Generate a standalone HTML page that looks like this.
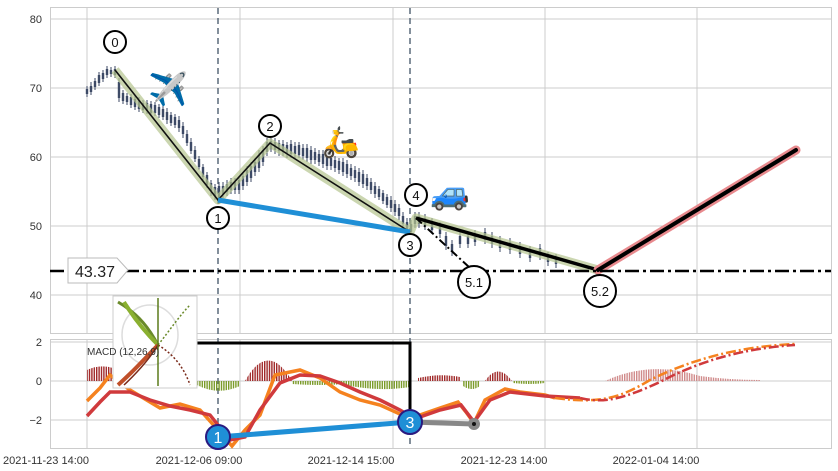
<!DOCTYPE html>
<html><head><meta charset="utf-8"><style>
body{margin:0;background:#fff;width:838px;height:471px;overflow:hidden}
svg{display:block;font-family:"Liberation Sans",sans-serif}
</style></head><body>
<svg width="838" height="471" viewBox="0 0 838 471">
<defs>
<pattern id="pr" width="2.4" height="10" patternUnits="userSpaceOnUse"><rect width="1.4" height="10" fill="#a02828"/></pattern>
<pattern id="pg" width="2.4" height="10" patternUnits="userSpaceOnUse"><rect width="1.4" height="10" fill="#7a9a28"/></pattern>
<pattern id="pp" width="2.4" height="10" patternUnits="userSpaceOnUse"><rect width="1.4" height="10" fill="#d08a8a"/></pattern>
</defs>
<rect x="0" y="0" width="838" height="471" fill="#fff"/>
<g stroke="#ccc" stroke-width="1" fill="none">
<rect x="50.5" y="7.5" width="781" height="326"/>
<rect x="50.5" y="339.5" width="781" height="109"/>
<line x1="51" x2="831" y1="19" y2="19"/><line x1="51" x2="831" y1="88" y2="88"/>
<line x1="51" x2="831" y1="157" y2="157"/><line x1="51" x2="831" y1="226" y2="226"/>
<line x1="51" x2="831" y1="295" y2="295"/>
<line x1="51" x2="831" y1="342" y2="342"/><line x1="51" x2="831" y1="381" y2="381"/><line x1="51" x2="831" y1="420" y2="420"/>
<path d="M87 8V333M240 8V333M393 8V333M545 8V333M697 8V333M87 340V448M240 340V448M393 340V448M545 340V448M697 340V448"/>
</g>
<g font-size="11" fill="#333" text-anchor="end">
<text x="42" y="23">80</text><text x="42" y="92">70</text><text x="42" y="161">60</text><text x="42" y="230">50</text><text x="42" y="299">40</text>
<text x="42" y="346">2</text><text x="42" y="385">0</text><text x="42" y="424">−2</text>
</g>
<g font-size="11" fill="#333" text-anchor="middle">
<text x="46" y="464">2021-11-23 14:00</text><text x="199" y="464">2021-12-06 09:00</text><text x="351" y="464">2021-12-14 15:00</text><text x="504" y="464">2021-12-23 14:00</text><text x="656" y="464">2022-01-04 14:00</text>
</g>
<g stroke="#5a6a7a" stroke-width="1.5" stroke-dasharray="6,4"><line x1="218" x2="218" y1="8" y2="448"/><line x1="410" x2="410" y1="8" y2="448"/></g>
<!-- candles -->
<path fill="none" stroke="#3d4a66" stroke-width="1" d="M87 86V97M91 82V95M95 78V90M99 72V86M103 70V82M107 66V78M111 67V77M115 66V78M119 78V102M123 90V104M127 93V105M131 94V108M135 96V110M139 97V112M143 100V113M147 100V114M151 101V116M155 102V116M159 104V118M163 106V120M167 108V124M171 112V126M175 114V128M179 116V132M183 122V138M187 130V146M191 138V154M195 146V162M199 156V170M203 164V180M207 172V188M211 180V196M215 184V200M219 182V204M223 182V198M227 180V196M231 178V194M235 178V194M239 176V194M243 172V190M247 166V186M251 162V182M255 158V176M259 150V172M263 146V166M267 138V156M271 138V152M275 138V154M279 140V156M283 140V156M287 142V158M291 140V158M295 142V158M299 142V158M303 144V160M307 144V162M311 146V164M315 148V164M319 150V166M323 150V168M327 152V170M331 154V170M335 156V172M339 158V174M343 158V176M347 160V178M351 164V180M355 166V182M359 168V186M363 170V188M367 174V190M371 178V194M375 182V198M379 186V200M383 190V204M387 194V208M391 196V212M395 200V216M399 204V220M403 212V228M407 218V234M411 220V236M415 212V228M419 212V228M425 214V230M432 218V234M440 222V238M446 232V250M452 240V256M460 232V248M468 232V248M475 230V246M485 228V244M492 232V248M500 236V252M510 238V254M520 242V258M530 246V262M540 244V260M548 252V266M556 254V268"/>
<path fill="none" stroke="#3d4a66" stroke-width="2.4" d="M87 89V94M91 86V92M95 81V87M99 75V83M103 73V79M107 69V75M111 70V74M115 69V75M119 82V98M123 93V101M127 96V102M131 97V105M135 99V107M139 100V109M143 103V110M147 103V111M151 104V113M155 105V113M159 107V115M163 109V117M167 112V120M171 115V123M175 117V125M179 120V128M183 126V134M187 134V143M191 142V151M195 150V159M199 159V167M203 167V177M207 175V185M211 183V191M215 187V196M219 186V198M223 186V194M227 184V192M231 182V190M235 182V190M239 180V190M243 176V186M247 170V182M251 166V178M255 162V172M259 155V168M263 150V162M267 142V152M271 141V149M275 142V150M279 143V151M283 144V152M287 145V153M291 144V154M295 146V154M299 145V155M303 148V156M307 148V158M311 150V160M315 152V160M319 154V162M323 154V164M327 156V166M331 158V166M335 160V168M339 161V170M343 162V172M347 164V174M351 168V176M355 170V178M359 172V182M363 174V184M367 178V186M371 182V190M375 186V194M379 189V197M383 193V201M387 197V205M391 200V208M395 204V212M399 208V216M403 216V224M407 222V230M411 224V232M415 216V224M419 216V224M425 218V226M432 222V230M440 226V234M446 236V246M452 244V252M460 236V244M468 236V244M475 234V242M485 232V240M492 236V244M500 240V248M510 242V250M520 246V254M530 250V258M540 248V256M548 256V262M556 258V264"/>
<!-- zigzag -->
<polyline points="115,70 218,200 270,143 410,232 416,218 598,270" fill="none" stroke="#b5c48f" stroke-opacity="0.7" stroke-width="9" stroke-linejoin="round"/>
<polyline points="115,70 218,200 270,143 410,232" fill="none" stroke="#111" stroke-width="1.6"/>
<line x1="416" y1="218" x2="598" y2="270" stroke="#000" stroke-width="3.5"/>
<line x1="218" y1="200" x2="410" y2="232" stroke="#1f8fd6" stroke-width="5"/>
<line x1="416" y1="218" x2="470" y2="268" stroke="#000" stroke-width="2" stroke-dasharray="8,3,2,3"/>
<line x1="598" y1="270" x2="796" y2="150" stroke="#e88a8e" stroke-width="9" stroke-linecap="round"/>
<line x1="598" y1="270" x2="796" y2="150" stroke="#000" stroke-width="4" stroke-linecap="round"/>
<line x1="50" y1="271" x2="831" y2="271" stroke="#000" stroke-width="2.5" stroke-dasharray="14,4,3,4"/>
<path d="M68 258H117L128 270L117 283H68Z" fill="#fff" stroke="#bbb"/>
<text x="75" y="277" font-size="16" fill="#222">43.37</text>
<g fill="#fff" stroke="#000" stroke-width="2">
<circle cx="115" cy="42" r="11"/><circle cx="218" cy="218" r="11"/><circle cx="270" cy="126" r="11"/><circle cx="410" cy="245" r="11"/><circle cx="416" cy="195" r="11"/><circle cx="474" cy="282" r="16"/><circle cx="600" cy="291" r="16"/>
</g>
<g font-size="13" text-anchor="middle" fill="#111">
<text x="115" y="47">0</text><text x="218" y="223">1</text><text x="270" y="131">2</text><text x="410" y="250">3</text><text x="416" y="200">4</text><text x="474" y="287">5.1</text><text x="600" y="296">5.2</text>
</g>
<text x="148" y="100" font-size="32" font-family="'Noto Color Emoji',sans-serif">✈️</text>
<text x="322" y="152" font-size="30" font-family="'Noto Color Emoji',sans-serif">🛵</text>
<text x="430" y="204" font-size="32" font-family="'Noto Color Emoji',sans-serif">🚙</text>
<!-- histogram -->
<path d="M87 381V370Q100 364 113 368V381Z" fill="url(#pr)"/>
<path d="M197 381V385Q218 396 240 386V381Z" fill="url(#pg)"/>
<path d="M245 381Q268 340 292 381Z" fill="url(#pr)"/>
<path d="M292 381V384Q320 386 345 384V381Z" fill="url(#pg)"/>
<path d="M345 381V385Q380 392 410 387V381Z" fill="url(#pg)"/>
<path d="M418 381V378Q440 373 460 377V381Z" fill="url(#pr)"/>
<path d="M463 381V386Q472 392 480 386V381Z" fill="url(#pg)"/>
<path d="M485 381Q498 362 512 381Z" fill="url(#pr)"/>
<path d="M513 381V383Q530 385 545 383V381Z" fill="url(#pg)"/>
<path d="M605 381Q650 360 700 376Q730 380 760 380V381Z" fill="url(#pp)"/>
<!-- macd -->
<polyline points="87,401 100,388 110,375 130,390 160,408 180,404 200,410 218,430 232,446 245,430 260,415 275,375 290,372 300,370 320,378 340,392 360,400 380,405 400,414 410,420 420,415 440,408 458,402 466,412 474,423 485,400 505,389 520,392 545,395 555,398" fill="none" stroke="#f5821f" stroke-width="3.5"/>
<polyline points="87,416 100,402 110,392 130,392 150,400 170,406 190,410 210,415 230,440 245,437 260,410 280,383 300,375 320,376 340,383 360,392 380,400 400,410 410,416 420,417 440,410 461,405 474,422 490,400 510,392 545,396 580,398" fill="none" stroke="#d03a3c" stroke-width="3.5"/>
<path d="M555 398 C600 404 620 398 650 380 C700 355 750 346 795 344" fill="none" stroke="#f5821f" stroke-width="2.5" stroke-dasharray="10,3,2,3"/>
<path d="M580 398 C605 404 625 398 660 382 C705 358 750 348 795 345" fill="none" stroke="#d03a3c" stroke-width="2.5" stroke-dasharray="10,3,2,3"/>
<polyline points="195,343 410,343 410,420" fill="none" stroke="#000" stroke-width="3"/>
<line x1="218" y1="437" x2="410" y2="422" stroke="#1f8fd6" stroke-width="5"/>
<line x1="410" y1="422" x2="474" y2="424" stroke="#888" stroke-width="5"/>
<circle cx="474" cy="424" r="6" fill="#888"/><circle cx="474" cy="424" r="2" fill="#111"/>
<circle cx="218" cy="437" r="12" fill="#1f8fd6" stroke="#2a1a80" stroke-width="2"/>
<circle cx="410" cy="422" r="12" fill="#1f8fd6" stroke="#2a1a80" stroke-width="2"/>
<text x="218" y="443" fill="#fff" font-size="16" text-anchor="middle">1</text>
<text x="410" y="428" fill="#fff" font-size="16" text-anchor="middle">3</text>
<!-- inset logo -->
<rect x="113" y="296" width="84" height="92" fill="#fff" stroke="#ccc"/>
<g fill="none" stroke-width="1.5">
<ellipse cx="150" cy="335" rx="28" ry="30" stroke="#ddd"/>
<path d="M118 302 C140 315 150 330 158 345" stroke="#6a8a2a" stroke-width="3"/>
<path d="M124 302 C135 320 148 335 158 345" stroke="#8ab030" stroke-width="4"/>
<path d="M118 385 C135 370 148 355 158 345" stroke="#c0502a" stroke-width="4"/>
<path d="M124 385 C140 370 150 358 158 345" stroke="#7a2a1a"/>
<path d="M158 345 C170 330 180 315 190 305" stroke="#6a8a2a" stroke-dasharray="2,2"/>
<path d="M158 345 C175 355 185 370 190 385" stroke="#7a2a1a" stroke-dasharray="2,2"/>
<line x1="158" y1="298" x2="158" y2="386" stroke="#5a7a1a"/>
</g>
<text x="87" y="355" font-size="10" fill="#333">MACD (12,26,9)</text>
</svg>
</body></html>
